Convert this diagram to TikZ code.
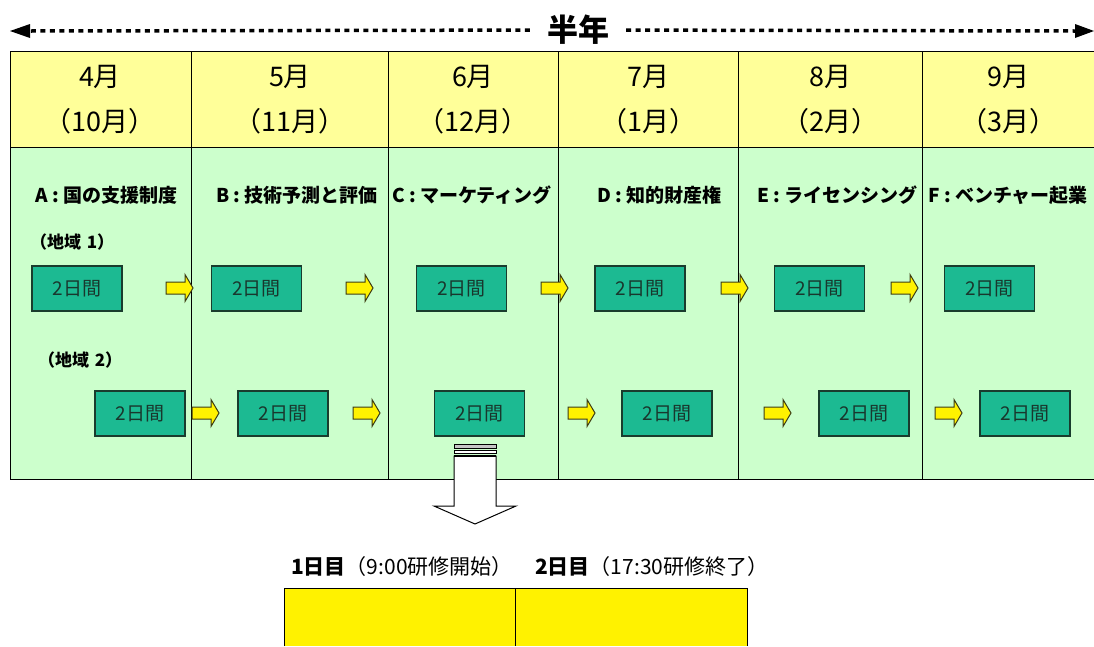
\documentclass[tikz,border=0pt]{standalone}
\usepackage{fontspec}
\setmainfont{Noto Sans CJK JP}
\usetikzlibrary{arrows.meta}
\definecolor{hdr}{HTML}{FFFF99}
\definecolor{grn}{HTML}{CCFFCC}
\definecolor{teal}{RGB}{28,186,146}
\definecolor{tealedge}{RGB}{25,60,45}
\definecolor{boxtext}{RGB}{25,55,45}
\definecolor{arrowedge}{RGB}{60,60,20}
\tikzset{
  frame/.style={draw=black, line width=1pt},
  month/.style={font=\fontsize{27}{27}\selectfont, inner sep=0pt},
  subject/.style={font=\bfseries\fontsize{19}{19}\selectfont, anchor=west, inner sep=0pt},
  region/.style={font=\bfseries\fontsize{17}{17}\selectfont, anchor=west, inner sep=0pt},
  daybox/.style={draw=tealedge, line width=1.2pt, fill=teal, minimum width=90pt, minimum height=45pt, inner sep=0pt, text=boxtext, font=\fontsize{19}{19}\selectfont},
  dotline/.style={line width=3.5pt, dash pattern=on 5pt off 4.5pt, black},
  yarrow/.pic={\draw[fill=yellow, draw=arrowedge, line width=1pt] (0,-6) -- (19,-6) -- (19,-13.5) -- (27,0) -- (19,13.5) -- (19,6) -- (0,6) -- cycle;},
  daylabel/.style={font=\fontsize{21}{21}\selectfont, anchor=west, inner sep=0pt}
}
\begin{document}
\begin{tikzpicture}[x=1pt,y=-1pt]
\useasboundingbox (0,0) rectangle (1094,646);
% top arrow
\node[font=\bfseries\fontsize{31}{31}\selectfont, inner xsep=17pt, inner ysep=2pt] (half) at (578,30) {半年};
\coordinate (L) at (10,31);
\coordinate (R) at (1094,31);
\draw[dotline] (half) -- (30,31);
\draw[dotline] (half) -- (1075,31);
\fill (L) -- (30,24) -- (30,38) -- cycle;
\fill (R) -- (1075,24) -- (1075,38) -- cycle;
% table
\fill[hdr] (10,51) rectangle (1094,147);
\fill[grn] (10,147) rectangle (1094,479);
\draw[frame] (1094,51) -- (10,51) -- (10,479) -- (1094,479);
\draw[frame] (10,147) -- (1094,147);
\foreach \x in {191,388,558,738,922} \draw[frame] (\x,51) -- (\x,479);
% months
\node[month] (m1) at (100,77) {4月};
\node[month] (m2) at (290,77) {5月};
\node[month] (m3) at (473,77) {6月};
\node[month] (m4) at (648,77) {7月};
\node[month] (m5) at (830,77) {8月};
\node[month] (m6) at (1008,77) {9月};
\node[month] (n1) at (100,121) {（10月）};
\node[month] (n2) at (290,121) {（11月）};
\node[month] (n3) at (473,121) {（12月）};
\node[month] (n4) at (648,121) {（1月）};
\node[month] (n5) at (830,121) {（2月）};
\node[month] (n6) at (1008,121) {（3月）};
% subjects
\node[subject] (sa) at (35,195) {A : 国の支援制度};
\node[subject] (sb) at (216,195) {B : 技術予測と評価};
\node[subject] (sc) at (392,195) {C : マーケティング};
\node[subject] (sd) at (597,195) {D : 知的財産権};
\node[subject] (se) at (757,195) {E : ライセンシング};
\node[subject] (sf) at (928,195) {F : ベンチャー起業};
% regions
\node[region] (r1) at (30,242) {（地域\,\,1）};
\node[region] (r2) at (38,360) {（地域\,\,2）};
% row 1
\node[daybox] (a1) at (77,288.5) {2日間};
\node[daybox] (b1) at (256.5,288.5) {2日間};
\node[daybox] (c1) at (461.5,288.5) {2日間};
\node[daybox] (d1) at (640,288.5) {2日間};
\node[daybox] (e1) at (819.5,288.5) {2日間};
\node[daybox] (f1) at (989.5,288.5) {2日間};
\foreach \x in {166,346,541,721,891} \pic at (\x,288) {yarrow};
% row 2
\node[daybox] (a2) at (140,413.5) {2日間};
\node[daybox] (b2) at (283,413.5) {2日間};
\node[daybox] (c2) at (479.5,413.5) {2日間};
\node[daybox] (d2) at (667,413.5) {2日間};
\node[daybox] (e2) at (864,413.5) {2日間};
\node[daybox] (f2) at (1025,413.5) {2日間};
\foreach \x in {192,353,568,764,935} \pic at (\x,413) {yarrow};
% big down arrow
\filldraw[fill=gray!45, draw=black, line width=0.8pt] (454,444) rectangle (496,448);
\filldraw[fill=white, draw=black, line width=0.8pt] (454,450.5) rectangle (496,453);
\filldraw[fill=white, draw=black, line width=1pt] (454,456) -- (496,456) -- (496,506) -- (516,506) -- (475,524) -- (434,506) -- (454,506) -- cycle;
\draw[line width=2pt] (454,456) -- (496,456);
% bottom
\node[daylabel] (t1) at (291,567) {{\bfseries 1日目}（9:00研修開始）};
\node[daylabel] (t2) at (535,567) {{\bfseries 2日目}（17:30研修終了）};
\fill[yellow] (284,588) rectangle (747,646);
\draw[frame] (284,646) -- (284,588) -- (747,588) -- (747,646);
\draw[frame] (515,588) -- (515,646);
\end{tikzpicture}
\end{document}
